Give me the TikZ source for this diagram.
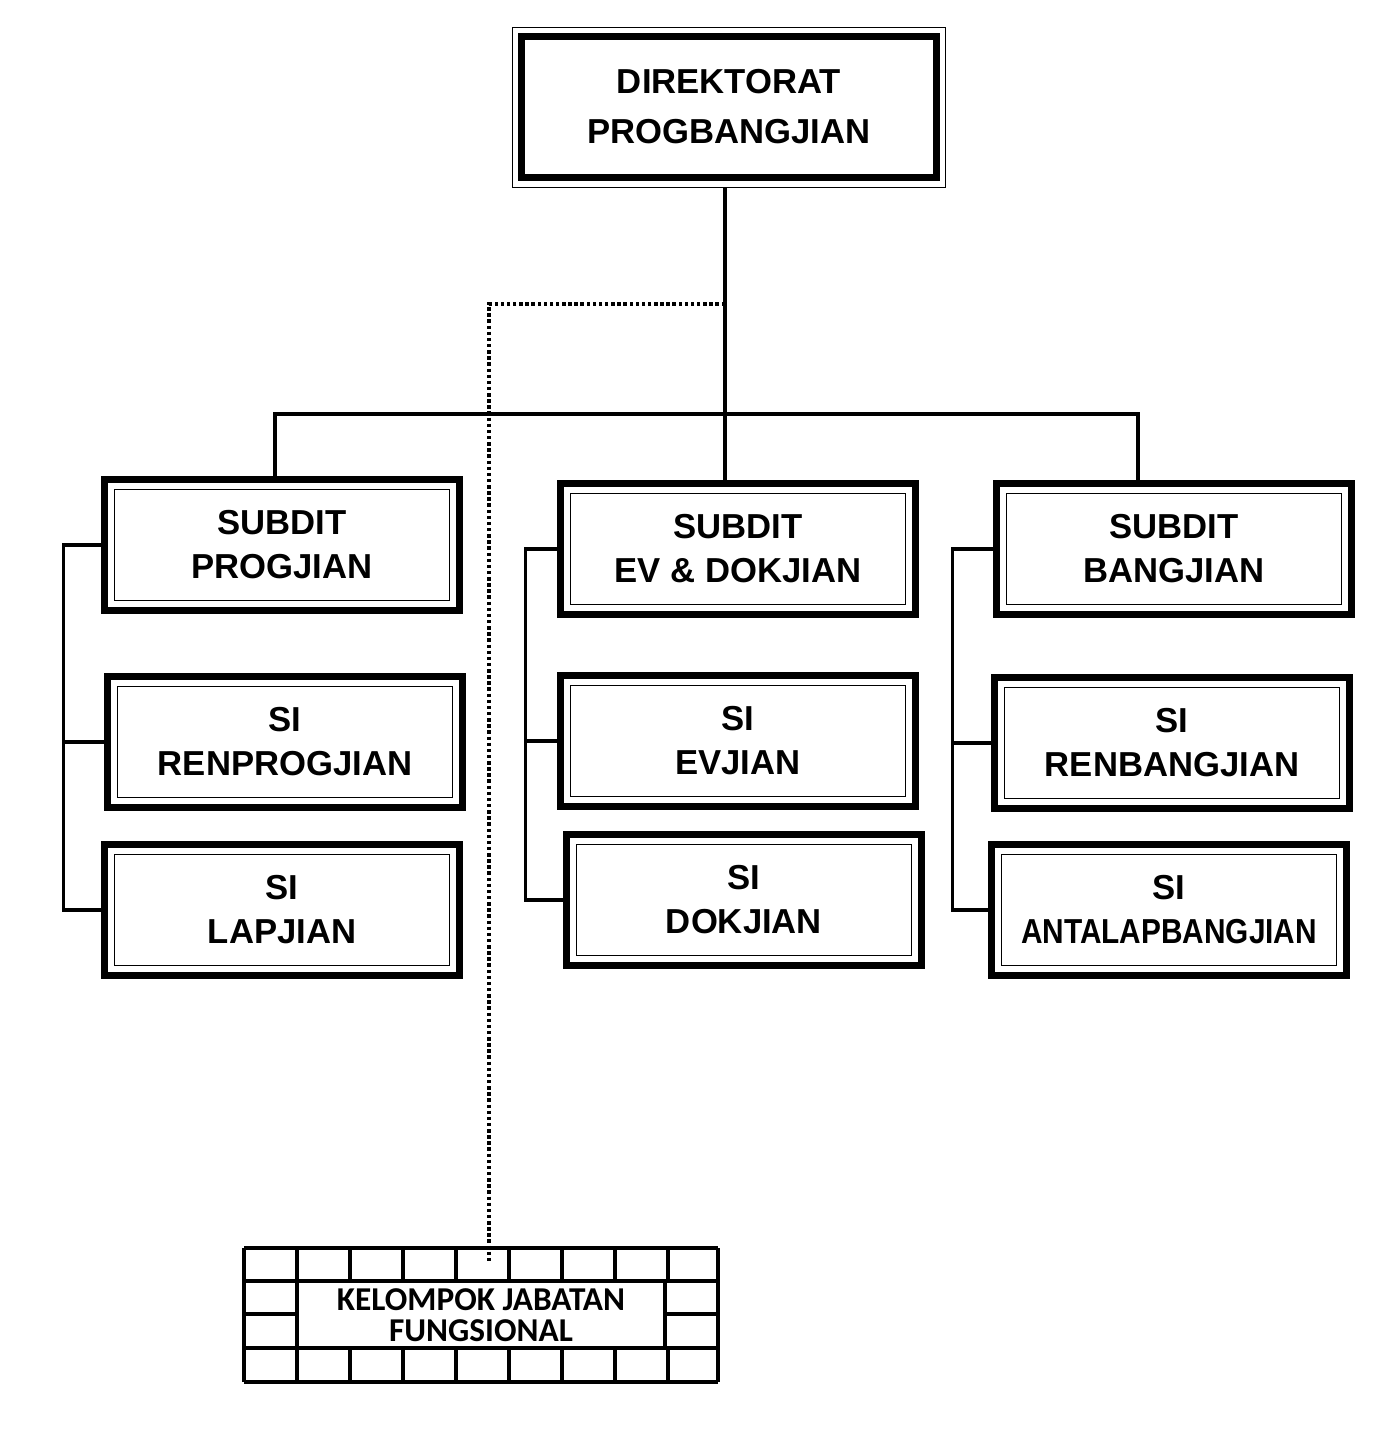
\documentclass[tikz,border=0pt]{standalone}
\usepackage{fontspec}
\setmainfont{Liberation Sans}
\newfontfamily\calfont{Carlito}
\usepackage{graphicx}
\begin{document}
\begin{tikzpicture}[x=0.75pt,y=-0.75pt,
  unit/.style={draw,line width=5pt,minimum width=266pt,minimum height=98pt,align=center,
    font=\bfseries\fontsize{26}{33}\selectfont,
    path picture={\draw[line width=0.6pt,double,double distance=1.3pt]
      ([xshift=6.5pt,yshift=-6.5pt]path picture bounding box.north west) rectangle
      ([xshift=-6.5pt,yshift=6.5pt]path picture bounding box.south east);}},
  head/.style={draw,line width=0.6pt,minimum width=325pt,minimum height=120pt,align=center,
    font=\bfseries\fontsize{26}{37.5}\selectfont,
    path picture={\draw[line width=5pt]
      ([xshift=7pt,yshift=-7pt]path picture bounding box.north west) rectangle
      ([xshift=-7pt,yshift=7pt]path picture bounding box.south east);}},
  link/.style={line width=2.6pt}]
\useasboundingbox (0,0) rectangle (1394,1436);
% top
\node[head] (dir) at (729,107) {DIREKTORAT\\PROGBANGJIAN};
% subdit and seksi
\node[unit] (sp) at (282,545) {SUBDIT\\PROGJIAN};
\node[unit] (rp) at (285,742) {SI\\RENPROGJIAN};
\node[unit] (lp) at (282,910) {SI\\LAPJIAN};
\node[unit] (se) at (738,549) {SUBDIT\\EV \& DOKJIAN};
\node[unit] (ev) at (738,741) {SI\\EVJIAN};
\node[unit] (dk) at (744,900) {SI\\DOKJIAN};
\node[unit] (sb) at (1174,549) {SUBDIT\\BANGJIAN};
\node[unit] (rb) at (1172,743) {SI\\RENBANGJIAN};
\node[unit] (ab) at (1169,910) {SI\\\scalebox{0.86}[1]{ANTALAPBANGJIAN}};
% connectors
\coordinate (stem) at (725,187);
\coordinate (bus) at (725,414);
\coordinate (dot) at (725,304);
\coordinate (bl) at (275,414);
\coordinate (br) at (1138,414);
\draw[link] (stem) -- (stem |- se.north);
\draw[link] (bl |- sp.north) -- (bl) -- (br) -- (br |- sb.north);
\draw[link] (sp.west) -- ++(-38,0) coordinate (lt) -- (lt |- lp.west) -- (lp.west);
\draw[link] (lt |- rp.west) -- (rp.west);
\draw[link] (se.west) -- ++(-32,0) coordinate (mt) -- (mt |- dk.west) -- (dk.west);
\draw[link] (mt |- ev.west) -- (ev.west);
\draw[link] (sb.west) -- ++(-41,0) coordinate (rt) -- (rt |- ab.west) -- (ab.west);
\draw[link] (rt |- rb.west) -- (rb.west);
% fungsional
\foreach \x in {244,297,...,718} {\draw[link] (\x,1248) -- (\x,1281); \draw[link] (\x,1348) -- (\x,1382);}
\draw[link] (718,1248) -- (718,1382);
\draw[link] (244,1248) -- (718,1248) (244,1281) -- (718,1281) (244,1348) -- (718,1348) (244,1382) -- (718,1382);
\draw[link] (244,1248) -- (244,1382) (297,1281) -- (297,1348) (665,1281) -- (665,1348);
\draw[link] (244,1314) -- (297,1314) (665,1314) -- (718,1314);
\node[fill=white,inner sep=1pt,align=center,font=\calfont\bfseries\fontsize{25}{23}\selectfont] (kjf) at (481,1315) {KELOMPOK JABATAN\\FUNGSIONAL};
\draw[line width=2.6pt,dotted] (dot) -| (489,1262) coordinate (kjtop);
\end{tikzpicture}
\end{document}
